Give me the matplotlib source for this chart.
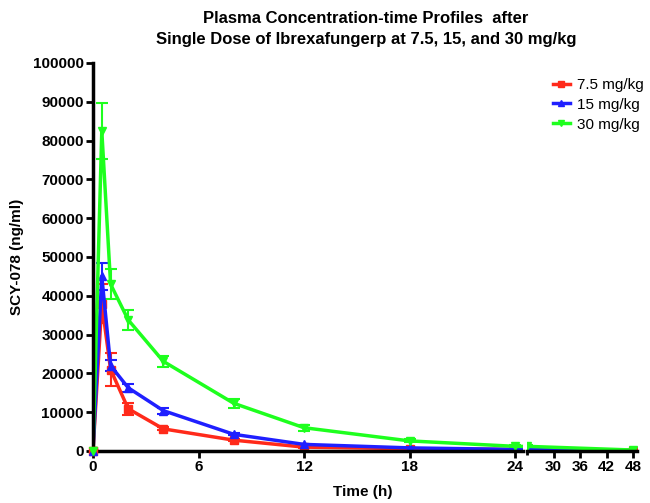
import matplotlib
matplotlib.use("Agg")
import matplotlib.pyplot as plt
from matplotlib.lines import Line2D
import numpy as np

plt.rcParams['font.family'] = ['Liberation Sans', 'DejaVu Sans']

time = [0, 0.5, 1, 2, 4, 8, 12, 18, 24, 48]
labels = ["7.5 mg/kg", "15 mg/kg", "30 mg/kg"]
conc_75 = [0, 38000, 21000, 10900, 5700, 2800, 1000, 600, 400, 100]
sd_75 = [0, 5000, 4200, 1500, 400, 300, 200, 100, 100, 50]
conc_15 = [0, 45000, 22000, 16300, 10400, 4300, 1700, 800, 400, 100]
sd_15 = [0, 3500, 1500, 1000, 800, 300, 200, 100, 100, 50]
conc_30 = [0, 82500, 43000, 33800, 23100, 12300, 6000, 2600, 1200, 250]
sd_30 = [0, 7300, 3800, 2500, 1500, 1200, 800, 400, 400, 100]

yticks = list(range(0, 100001, 10000))
xticks1 = [0, 6, 12, 18, 24]
xticks2 = [30, 36, 42, 48]

series = [
    (conc_75, sd_75, '#ff2a1a', 's'),
    (conc_15, sd_15, '#1f1fff', '^'),
    (conc_30, sd_30, '#1eff1e', 'v'),
]

W, H = 650, 503
fig = plt.figure(figsize=(W / 100, H / 100), dpi=100)
bot = (H - 451) / H
hgt = (451 - 63) / H
ax1 = fig.add_axes([93 / W, bot, (523 - 93) / W, hgt])
ax2 = fig.add_axes([527 / W, bot, (637 - 527) / W, hgt])

handles = []
for ax in (ax1, ax2):
    for (c, sd, col, m), lab in zip(series, labels):
        ax.errorbar(time, c, yerr=sd, color=col, marker=m, markersize=6,
                    linewidth=2.5, elinewidth=1.5, capsize=4, capthick=1.5,
                    label=lab)
        if ax is ax1:
            ax.plot(time[:1], c[:1], color=col, marker=m, markersize=6,
                    linestyle='none', clip_on=False, zorder=5)
            handles.append(Line2D([], [], color=col, marker=m, markersize=5,
                                  linewidth=2.5))
    ax.set_ylim(0, 100000)
    for s in ('top', 'right'):
        ax.spines[s].set_visible(False)
    ax.spines['bottom'].set_linewidth(2.5)
    ax.spines['left'].set_linewidth(2.5)
    ax.tick_params(width=2, length=5, labelsize=11, direction='out', pad=1.5)

ax1.set_xlim(0, 24.45)
ax1.set_xticks(xticks1)
ax1.set_xticklabels([str(v) for v in xticks1], fontweight='bold')
ax1.set_yticks(yticks)
ax1.set_yticklabels([str(v) for v in yticks], fontweight='bold')

ax2.set_xlim(24, 48.9)
ax2.set_xticks(xticks2)
ax2.set_xticklabels([str(v) for v in xticks2], fontweight='bold')
ax2.set_xticks([24], minor=True)
ax2.tick_params(axis='x', which='minor', length=3, width=2)
ax2.spines['left'].set_visible(False)
ax2.set_yticks([])

fig.text((93 + 633) / 2 / W, 1 - 492 / H, "Time (h)", ha='center', va='center',
         fontsize=11, fontweight='bold')
fig.text(17 / W, 1 - 257 / H, "SCY-078 (ng/ml)", ha='center', va='center',
         rotation=90, fontsize=11, fontweight='bold')
fig.text(366 / W, 1 - 29 / H,
         "Plasma Concentration-time Profiles  after\nSingle Dose of Ibrexafungerp at 7.5, 15, and 30 mg/kg",
         ha='center', va='center', fontsize=12, fontweight='bold', linespacing=1.55)

fig.legend(handles=handles, labels=labels, loc='upper left',
           bbox_to_anchor=(553 / W, 1 - 78 / H), frameon=False, fontsize=11,
           handlelength=1.1, handletextpad=0.45, labelspacing=0.38, borderpad=0,
           borderaxespad=0)

fig.savefig("out.png", dpi=100)
